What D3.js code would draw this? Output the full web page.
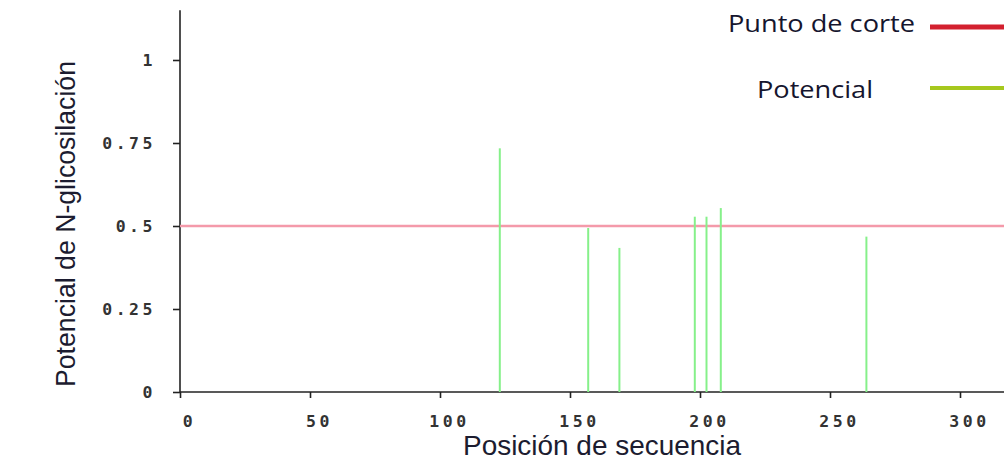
<!DOCTYPE html>
<html>
<head>
<meta charset="utf-8">
<script src="https://cdn.jsdelivr.net/npm/d3@7"></script>
<style>
  body { margin: 0; background: #fff; }
  svg { display: block; }
</style>
</head>
<body>
<svg width="1004" height="462"></svg>
<script>
// Data
const positions = [123, 157, 169, 198, 202.5, 208, 264]
const potentials = [0.734, 0.494, 0.434, 0.528, 0.528, 0.554, 0.468]
const threshold = 0.5
const xTicks = [0, 50, 100, 150, 200, 250, 300]
const yTicks = [0, 0.25, 0.5, 0.75, 1]
const legendLabels = ['Punto de corte', 'Potencial']

const drawChart = () => {
  const svg = d3.select('svg')

  const red = '#f49aaa',
    green = '#86f08a',
    legendRed = '#d3202f',
    legendGreen = '#a6c81e'

  let xPixelMin = 180
  let xPixelMax = 960
  let yPixelMin = 60
  let yPixelMax = 392

  // Scales
  let xScale = d3.scaleLinear().domain([0, 300]).range([xPixelMin, xPixelMax])
  let yScale = d3.scaleLinear().domain([0, 1]).range([yPixelMax, yPixelMin])

  // Axes
  let xAxis = d3.axisBottom(xScale).tickValues(xTicks).tickSize(6).tickSizeOuter(0)
  let xAxisG = svg.append('g')
    .attr('id', 'xAxisG')
    .attr('transform', `translate(0, ${yPixelMax})`)
    .call(xAxis)
  // extend the x axis line past the window edge
  xAxisG.select('.domain').attr('d', `M${xScale(0)},0H${xScale(330)}`)

  let yAxis = d3.axisLeft(yScale).tickValues(yTicks).tickSize(7).tickSizeOuter(0)
    .tickFormat(d => d3.format('')(d))
  let yAxisG = svg.append('g')
    .attr('id', 'yAxisG')
    .attr('transform', `translate(${xPixelMin}, 0)`)
    .call(yAxis)
  yAxisG.select('.domain').attr('d', `M0,${yScale(0)}V${yScale(1.15)}`)

  svg.selectAll('.domain').attr('stroke', '#222').attr('stroke-width', 1.6)
  svg.selectAll('.tick line').attr('stroke', '#222').attr('stroke-width', 1.6)
  svg.selectAll('.tick text')
    .attr('fill', '#333')
    .style('font-family', '"DejaVu Sans Mono", monospace')
    .style('font-weight', 'bold')
    .style('font-size', '16.5px')
    .style('letter-spacing', '3.5px')
  xAxisG.selectAll('.tick text').attr('y', 35).attr('dy', 0).attr('dx', '9')
  yAxisG.selectAll('.tick text').attr('x', -24).attr('dx', 0).attr('dy', '0.36em')

  // Threshold line
  svg.append('line')
    .attr('x1', xScale(0))
    .attr('x2', xScale(330))
    .attr('y1', yScale(threshold))
    .attr('y2', yScale(threshold))
    .attr('stroke', red)
    .attr('stroke-width', 2.5)

  // Potential spikes
  svg.selectAll('line.potential')
    .data(positions)
    .enter()
    .append('line')
    .attr('class', 'potential')
    .attr('x1', d => xScale(d))
    .attr('x2', d => xScale(d))
    .attr('y1', yScale(0))
    .attr('y2', (d, i) => yScale(potentials[i]))
    .attr('stroke', green)
    .attr('stroke-width', 2)

  // Axis titles
  svg.append('text')
    .attr('x', 602)
    .attr('y', 455)
    .attr('text-anchor', 'middle')
    .attr('textLength', 278)
    .attr('lengthAdjust', 'spacingAndGlyphs')
    .style('font-family', '"Liberation Sans", sans-serif')
    .style('font-size', '28px')
    .attr('fill', '#1c1c30')
    .text('Posición de secuencia')

  svg.append('text')
    .attr('transform', 'translate(75, 224) rotate(-90)')
    .attr('text-anchor', 'middle')
    .attr('textLength', 326)
    .attr('lengthAdjust', 'spacingAndGlyphs')
    .style('font-family', '"Liberation Sans", sans-serif')
    .style('font-size', '27px')
    .attr('fill', '#1c1c30')
    .text('Potencial de N-glicosilación')

  // Legend
  const legendBase = [32, 98]
  const legendLineY = [27, 88]
  const legendColors = [legendRed, legendGreen]
  const legendTextX = [728, 757]
  const legendWidth = [187, 116]
  const legendG = svg.append('g').attr('id', 'legend')
  legendLabels.forEach((label, i) => {
    legendG.append('text')
      .attr('x', legendTextX[i])
      .attr('y', legendBase[i])
      .attr('textLength', legendWidth[i])
      .attr('lengthAdjust', 'spacingAndGlyphs')
      .style('font-family', '"Open Sans", sans-serif')
      .style('font-size', '24px')
      .attr('fill', '#15152e')
      .text(label)
    legendG.append('line')
      .attr('x1', 930)
      .attr('x2', 1004)
      .attr('y1', legendLineY[i])
      .attr('y2', legendLineY[i])
      .attr('stroke', legendColors[i])
      .attr('stroke-width', i === 0 ? 5 : 4)
  })
}

drawChart()
</script>
</body>
</html>
